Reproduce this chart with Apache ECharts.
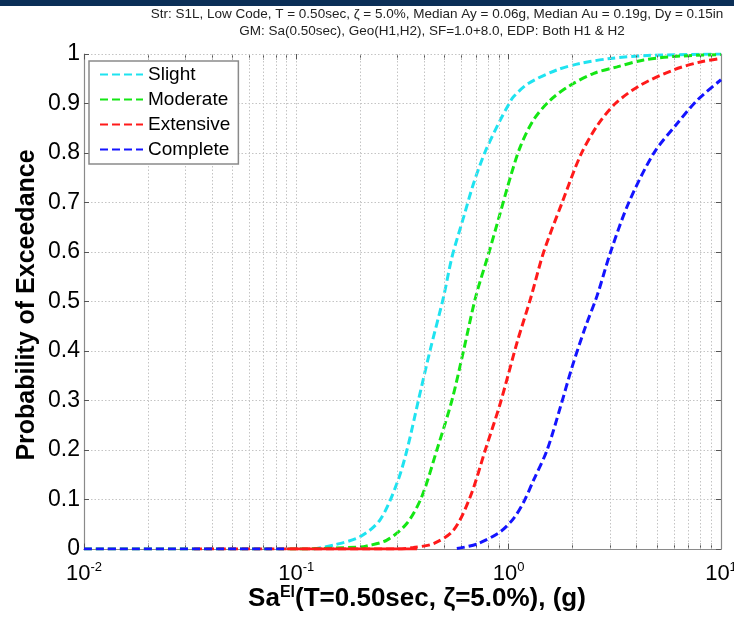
<!DOCTYPE html>
<html>
<head>
<meta charset="utf-8">
<script src="https://cdn.jsdelivr.net/npm/echarts@6/dist/echarts.min.js"></script>
<style>html,body{margin:0;padding:0;background:#fff}#c{width:734px;height:620px}</style>
</head>
<body>
<div id="c"></div>
<script>
// ---- data ----
const seriesNames = ['Slight', 'Moderate', 'Extensive', 'Complete'];
const seriesColors = ['#1fe3f0', '#14e614', '#ff1a1a', '#1414ff'];

const slightX = [0.12, 0.15, 0.2, 0.248, 0.298, 0.332, 0.376, 0.427, 0.494, 0.541, 0.614, 0.684, 0.776, 0.914, 1.0, 1.056, 1.243, 1.69, 2.18, 3.02, 4.5, 10];
const slightP = [0.0, 0.008, 0.025, 0.059, 0.133, 0.2, 0.301, 0.402, 0.51, 0.59, 0.671, 0.739, 0.803, 0.867, 0.898, 0.914, 0.941, 0.968, 0.981, 0.991, 0.997, 1.0];

const moderateX = [0.01, 0.1, 0.2, 0.215, 0.267, 0.332, 0.39, 0.459, 0.541, 0.614, 0.70, 0.805, 0.914, 1.02, 1.135, 1.31, 1.572, 1.954, 2.52, 3.24, 4.33, 6.0, 10];
const moderateP = [0, 0, 0.004, 0.006, 0.018, 0.052, 0.106, 0.2, 0.301, 0.402, 0.51, 0.597, 0.68, 0.752, 0.813, 0.867, 0.907, 0.937, 0.961, 0.974, 0.988, 0.995, 0.999];

const extensiveX = [0.033, 0.1, 0.3, 0.356, 0.443, 0.55, 0.66, 0.776, 0.914, 1.1, 1.266, 1.462, 1.786, 2.178, 2.61, 3.18, 4.17, 6.0, 8.0, 10];
const extensiveP = [0, 0, 0, 0.003, 0.011, 0.038, 0.106, 0.2, 0.295, 0.42, 0.505, 0.6, 0.7, 0.795, 0.855, 0.9, 0.937, 0.968, 0.984, 0.991];
const extensiveBaseX = [0.09, 0.37];
const extensiveBaseP = [0, 0];

const completeX = [0.01, 0.09, 0.3, 0.57, 0.71, 0.914, 1.056, 1.177, 1.31, 1.517, 1.753, 1.99, 2.30, 2.61, 3.02, 3.68, 4.83, 6.23, 7.74, 10];
const completeP = [0, 0, null, 0.001, 0.01, 0.035, 0.062, 0.095, 0.139, 0.2, 0.287, 0.368, 0.449, 0.512, 0.6, 0.7, 0.8, 0.86, 0.907, 0.948];

const minorGridX = [0.02,0.03,0.04,0.05,0.06,0.07,0.08,0.09,0.2,0.3,0.4,0.5,0.6,0.7,0.8,0.9,2,3,4,5,6,7,8,9];
const tickX = [0.01,0.02,0.03,0.04,0.05,0.06,0.07,0.08,0.09,0.1,0.2,0.3,0.4,0.5,0.6,0.7,0.8,0.9,1,2,3,4,5,6,7,8,9];

const titleLine1 = 'Str: S1L, Low Code, T = 0.50sec, \u03B6 = 5.0%, Median Ay = 0.06g, Median Au = 0.19g, Dy = 0.15in';
const titleLine2 = 'GM: Sa(0.50sec), Geo(H1,H2), SF=1.0+8.0, EDP: Both H1 & H2';
const yTitle = 'Probability of Exceedance';

// ---- chart ----
const FONT = "'Liberation Sans', Arial, sans-serif";
const pairs = (xs, ys) => xs.map((x, i) => [x, ys[i]]);
const curves = [[slightX, slightP], [moderateX, moderateP], [extensiveX, extensiveP], [completeX, completeP]];

const chart = echarts.init(document.getElementById('c'), null, {renderer: 'canvas'});

const dashed = {type: [8, 4], width: 3};
const series = curves.map((c, i) => ({
  name: seriesNames[i], type: 'line', xAxisIndex: 0, yAxisIndex: 0,
  data: pairs(c[0], c[1]), showSymbol: false, symbol: 'none',
  smooth: 0.3,
  connectNulls: false, animation: false, z: 3 + i,
  lineStyle: Object.assign({color: seriesColors[i]}, dashed),
  itemStyle: {color: seriesColors[i]}
}));
series.splice(3, 0, {
  name: 'ExtBase', type: 'line', data: pairs(extensiveBaseX, extensiveBaseP), symbol: 'none',
  lineStyle: {color: seriesColors[2], width: 3}, animation: false, z: 5
});
// grid lines and minor ticks via markLine
const tickLen = 0.011;
series.unshift({
  name: 'gridHelper', type: 'line', data: [], symbol: 'none', animation: false, z: 1,
  markLine: {
    silent: true, symbol: 'none', animation: false, label: {show: false},
    lineStyle: {color: '#c4c4c4', type: [1.5, 2], width: 1},
    data: minorGridX.map(v => ({xAxis: v}))
  }
});
series.unshift({
  name: 'tickHelper', type: 'line', data: [], symbol: 'none', animation: false, z: 2,
  markLine: {
    silent: true, symbol: 'none', animation: false, label: {show: false},
    lineStyle: {color: '#555', type: 'solid', width: 1},
    data: tickX.flatMap(v => [
      [{coord: [v, 0]}, {coord: [v, tickLen]}],
      [{coord: [v, 1]}, {coord: [v, 1 - tickLen]}]
    ])
  }
});

const option = {
  animation: false,
  backgroundColor: '#fff',
  textStyle: {fontFamily: FONT},
  grid: {left: 84, right: 13, top: 54, bottom: 71, show: false, containLabel: false, outerBoundsMode: 'none'},
  legend: {
    data: seriesNames, orient: 'vertical', left: 89, top: 61,
    itemWidth: 43, itemHeight: 17, itemGap: 6,
    padding: [4, 8, 5, 10],
    backgroundColor: '#fff', borderColor: '#8a8a8a', borderWidth: 1.5,
    itemStyle: {opacity: 0},
    textStyle: {fontSize: 19, color: '#000', fontFamily: FONT},
    z: 10
  },
  xAxis: [{
    type: 'log', logBase: 10, min: 0.01, max: 10, position: 'bottom',
    axisLine: {show: true, lineStyle: {color: '#8a8a8a', width: 1.2}},
    axisTick: {show: false},
    splitLine: {show: true, lineStyle: {color: '#c4c4c4', type: [1.5, 2], width: 1}},
    axisLabel: {
      margin: 12, color: '#000',
      formatter: v => '{b|10}{s|' + Math.round(Math.log10(v)) + '}',
      rich: {
        b: {fontSize: 22, fontFamily: FONT, color: '#000'},
        s: {fontSize: 13, fontFamily: FONT, color: '#000', verticalAlign: 'top', padding: [0, 0, 12, 0]}
      }
    }
  }, {
    type: 'log', logBase: 10, min: 0.01, max: 10, position: 'top',
    axisLine: {show: true, lineStyle: {color: '#8a8a8a', width: 1.2}},
    axisTick: {show: false}, axisLabel: {show: false}, splitLine: {show: false}
  }],
  yAxis: [{
    type: 'value', min: 0, max: 1, interval: 0.1, position: 'left',
    axisLine: {show: true, lineStyle: {color: '#8a8a8a', width: 1.2}},
    axisTick: {show: true, inside: true, length: 5, lineStyle: {color: '#555'}},
    splitLine: {show: true, lineStyle: {color: '#c4c4c4', type: [1.5, 2], width: 1}},
    axisLabel: {
      margin: 4, fontSize: 23, color: '#000', fontFamily: FONT,
      formatter: v => (Math.abs(v) < 1e-9 ? '0' : Math.abs(v - 1) < 1e-9 ? '1' : v.toFixed(1))
    }
  }, {
    type: 'value', min: 0, max: 1, interval: 0.1, position: 'right',
    axisLine: {show: true, lineStyle: {color: '#8a8a8a', width: 1.2}},
    axisTick: {show: true, inside: true, length: 5, lineStyle: {color: '#555'}},
    axisLabel: {show: false}, splitLine: {show: false}
  }],
  graphic: [
    {type: 'rect', left: 0, top: 0, shape: {width: 734, height: 6}, style: {fill: '#0b2f57'}, z: 100},
    {type: 'text', x: 437, y: 14, style: {text: titleLine1, font: '13.5px ' + FONT, fill: '#222', align: 'center', verticalAlign: 'middle'}, z: 100},
    {type: 'text', x: 432, y: 31, style: {text: titleLine2, font: '13.5px ' + FONT, fill: '#222', align: 'center', verticalAlign: 'middle'}, z: 100},
    {type: 'text', x: 27, y: 305, rotation: Math.PI / 2,
     style: {text: yTitle, font: 'bold 25px ' + FONT, fill: '#000', align: 'center', verticalAlign: 'middle'}, z: 100},
    {type: 'text', x: 417, y: 599,
     style: {
       text: '{a|Sa}{s|El}{a|(T=0.50sec, \u03B6=5.0%), (g)}',
       align: 'center', verticalAlign: 'middle',
       rich: {
         a: {font: 'bold 26px ' + FONT, fill: '#000'},
         s: {font: 'bold 16px ' + FONT, fill: '#000', verticalAlign: 'top', padding: [0, 0, 12, 0]}
       }
     }, z: 100}
  ],
  series: series
};
chart.setOption(option);
</script>
</body>
</html>
